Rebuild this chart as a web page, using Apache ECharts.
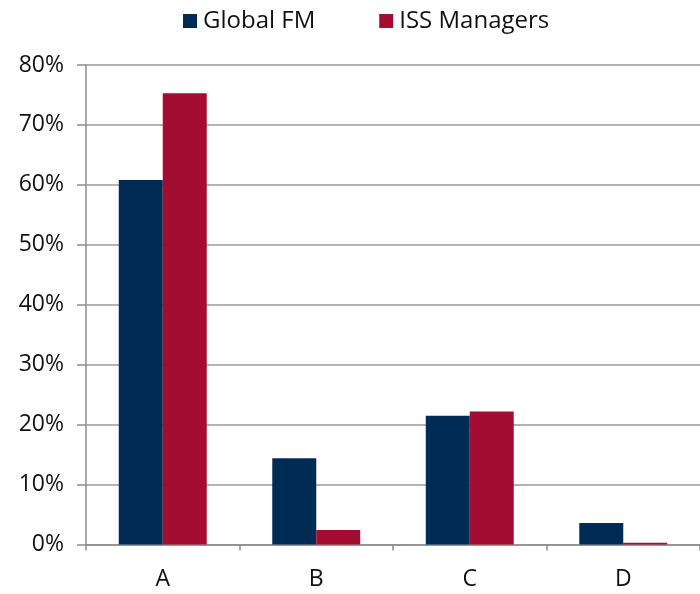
<!DOCTYPE html>
<html>
<head>
<meta charset="utf-8">
<script src="https://cdn.jsdelivr.net/npm/echarts@6/dist/echarts.min.js"></script>
<style>
  html, body { margin: 0; padding: 0; background: #fff; }
  #chart { width: 700px; height: 594px; }
</style>
</head>
<body>
<div id="chart"></div>
<script>
// Response categories and the share of each group (percent)
var categories = ['A', 'B', 'C', 'D'];
var globalFM = [60.8, 14.4, 21.5, 3.6];
var issManagers = [75.3, 2.4, 22.2, 0.3];
var seriesNames = ['Global FM', 'ISS Managers'];

var FONT = '"Open Sans", "Noto Sans", sans-serif';
var chart = echarts.init(document.getElementById('chart'), null, { renderer: 'canvas' });

chart.setOption({
  animation: false,
  color: ['#002b54', '#a20d31'],
  legend: {
    top: 9,
    left: 183,
    padding: 0,
    itemWidth: 14,
    itemHeight: 14,
    itemGap: 64,
    icon: 'rect',
    textStyle: { fontFamily: FONT, fontSize: 24, color: '#111', padding: [0, 0, 0, 1] },
    data: seriesNames
  },
  grid: { left: 86, right: 0, top: 65, bottom: 49.5 },
  xAxis: {
    type: 'category',
    data: categories,
    axisLine: { lineStyle: { color: '#8c8c8c', width: 1.5 } },
    axisTick: { show: true, length: 6, alignWithLabel: false, lineStyle: { color: '#8c8c8c', width: 1.5 } },
    axisLabel: { fontFamily: FONT, fontSize: 23, color: '#111', margin: 23 }
  },
  yAxis: {
    type: 'value',
    min: 0,
    max: 80,
    interval: 10,
    axisLine: { show: true, lineStyle: { color: '#8c8c8c', width: 1.5 } },
    axisTick: { show: true, length: 9, lineStyle: { color: '#8c8c8c', width: 1.5 } },
    splitLine: { lineStyle: { color: '#999', width: 1.5 } },
    axisLabel: { fontFamily: FONT, fontSize: 23, color: '#111', margin: 22, formatter: '{value}%' }
  },
  series: [
    { name: seriesNames[0], type: 'bar', data: globalFM, barGap: '0%', barCategoryGap: '42.7%' },
    { name: seriesNames[1], type: 'bar', data: issManagers, barGap: '0%', barCategoryGap: '42.7%' }
  ]
});
</script>
</body>
</html>
